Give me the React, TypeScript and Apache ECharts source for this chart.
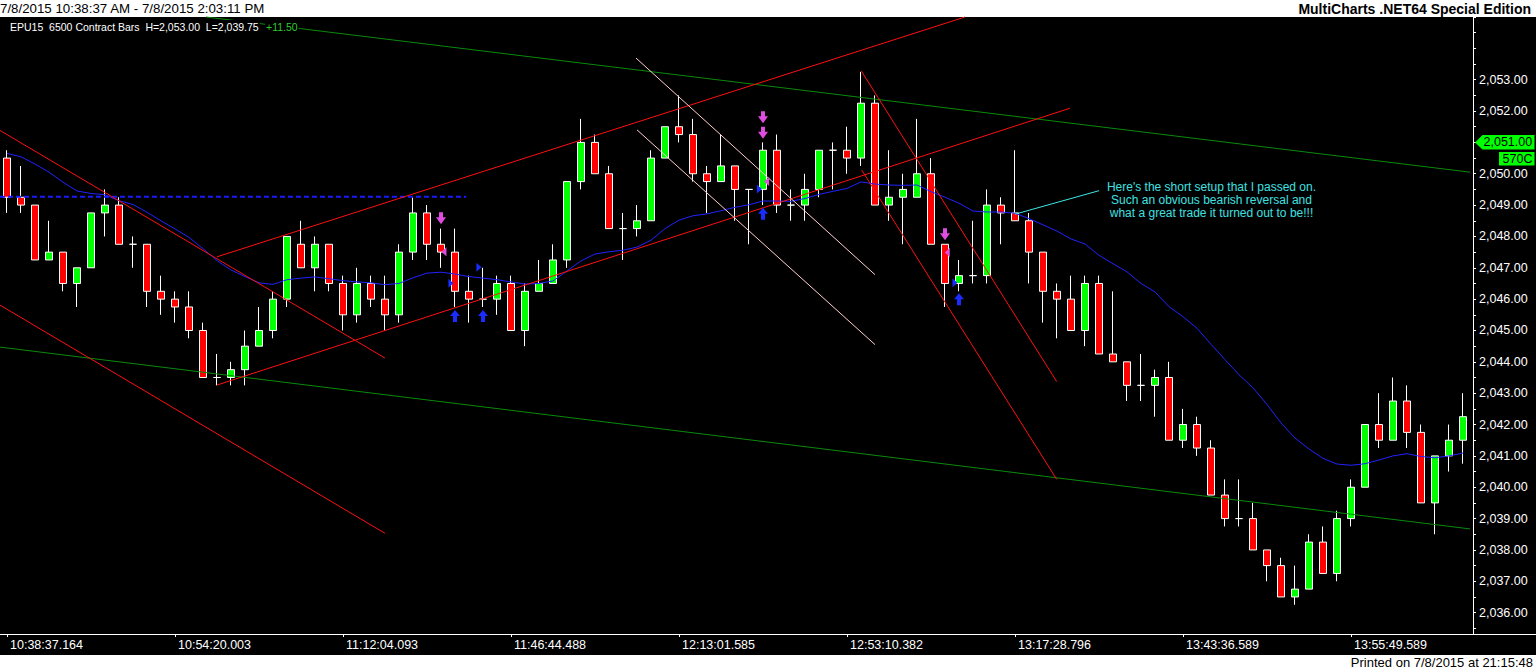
import React, { useEffect, useRef } from "react";
import * as echarts from "echarts";

// ---------- data ----------
const tickLabels = [
  "10:38:37.164", "10:54:20.003", "11:12:04.093", "11:46:44.488", "12:13:01.585",
  "12:53:10.382", "13:17:28.796", "13:43:36.589", "13:55:49.589",
];
const TICK_EVERY = 12;

// [open, high, low, close]
const ohlc: [number, number, number, number][] = [
  [2050.5, 2050.75, 2048.75, 2049.25], [2049.25, 2050.25, 2048.75, 2049.0], [2049.0, 2049.0, 2047.25, 2047.25],
  [2047.25, 2048.5, 2047.25, 2047.5], [2047.5, 2047.5, 2046.25, 2046.5], [2046.5, 2047.0, 2045.75, 2047.0],
  [2047.0, 2048.75, 2047.0, 2048.75], [2048.75, 2049.5, 2048.0, 2049.0], [2049.0, 2049.25, 2047.75, 2047.75],
  [2047.75, 2048.0, 2047.0, 2047.75], [2047.75, 2047.75, 2045.75, 2046.25], [2046.25, 2046.75, 2045.5, 2046.0],
  [2046.0, 2046.25, 2045.25, 2045.75], [2045.75, 2046.25, 2044.75, 2045.0], [2045.0, 2045.25, 2043.5, 2043.5],
  [2043.5, 2044.25, 2043.25, 2043.5], [2043.5, 2044.0, 2043.25, 2043.75], [2043.75, 2045.0, 2043.25, 2044.5],
  [2044.5, 2045.75, 2044.5, 2045.0], [2045.0, 2046.25, 2044.75, 2046.0], [2046.0, 2048.0, 2045.75, 2048.0],
  [2047.75, 2048.5, 2047.0, 2047.0], [2047.0, 2048.0, 2046.25, 2047.75], [2047.75, 2047.75, 2046.25, 2046.5],
  [2046.5, 2046.75, 2045.0, 2045.5], [2045.5, 2047.0, 2045.25, 2046.5], [2046.5, 2046.75, 2045.75, 2046.0],
  [2046.0, 2046.75, 2045.0, 2045.5], [2045.5, 2047.75, 2045.25, 2047.5], [2047.5, 2049.25, 2047.25, 2048.75],
  [2048.75, 2049.0, 2047.25, 2047.75], [2047.75, 2048.25, 2047.0, 2047.5], [2047.5, 2048.25, 2045.75, 2046.25],
  [2046.25, 2046.75, 2045.25, 2046.0], [2046.0, 2047.0, 2045.75, 2046.0], [2046.0, 2046.75, 2045.5, 2046.5],
  [2046.5, 2046.75, 2045.0, 2045.0], [2045.0, 2046.5, 2044.5, 2046.25], [2046.25, 2047.25, 2046.25, 2046.5],
  [2046.5, 2047.75, 2046.5, 2047.25], [2047.25, 2049.75, 2047.0, 2049.75], [2049.75, 2051.75, 2049.5, 2051.0],
  [2051.0, 2051.25, 2050.0, 2050.0], [2050.0, 2050.25, 2048.25, 2048.25], [2048.25, 2048.75, 2047.25, 2048.25],
  [2048.25, 2049.0, 2048.0, 2048.5], [2048.5, 2050.75, 2048.5, 2050.5], [2050.5, 2051.5, 2050.5, 2051.5],
  [2051.5, 2052.5, 2051.0, 2051.25], [2051.25, 2051.75, 2049.75, 2050.0], [2050.0, 2050.25, 2048.75, 2049.75],
  [2049.75, 2051.25, 2049.75, 2050.25], [2050.25, 2050.25, 2048.5, 2049.5], [2049.5, 2049.5, 2047.75, 2049.5],
  [2049.5, 2051.0, 2049.0, 2050.75], [2050.75, 2051.25, 2048.75, 2049.0], [2049.0, 2049.5, 2048.5, 2049.0],
  [2049.0, 2050.0, 2048.5, 2049.5], [2049.5, 2050.75, 2049.25, 2050.75], [2050.75, 2051.0, 2049.5, 2050.75],
  [2050.75, 2051.5, 2050.0, 2050.5], [2050.5, 2053.25, 2050.25, 2052.25], [2052.25, 2052.5, 2049.0, 2049.0],
  [2049.0, 2050.75, 2048.5, 2049.25], [2049.25, 2050.0, 2047.75, 2049.5], [2049.25, 2051.75, 2049.25, 2050.0],
  [2050.0, 2050.5, 2047.75, 2047.75], [2047.75, 2047.75, 2045.75, 2046.5], [2046.5, 2047.25, 2046.25, 2046.75],
  [2046.75, 2048.5, 2046.5, 2046.75], [2046.75, 2049.5, 2046.5, 2049.0], [2049.0, 2049.25, 2047.75, 2048.75],
  [2048.75, 2050.75, 2048.5, 2048.5], [2048.5, 2048.75, 2046.5, 2047.5], [2047.5, 2047.5, 2045.25, 2046.25],
  [2046.25, 2046.5, 2044.75, 2046.0], [2046.0, 2046.75, 2045.0, 2045.0], [2045.0, 2046.75, 2044.5, 2046.5],
  [2046.5, 2046.75, 2044.25, 2044.25], [2044.25, 2046.25, 2044.0, 2044.0], [2044.0, 2044.0, 2042.75, 2043.25],
  [2043.25, 2044.25, 2042.75, 2043.25], [2043.25, 2043.75, 2042.25, 2043.5], [2043.5, 2044.0, 2041.5, 2041.5],
  [2041.5, 2042.5, 2041.25, 2042.0], [2042.0, 2042.25, 2041.0, 2041.25], [2041.25, 2041.5, 2039.75, 2039.75],
  [2039.75, 2040.25, 2038.75, 2039.0], [2039.0, 2040.25, 2038.75, 2039.0], [2039.0, 2039.5, 2038.0, 2038.0],
  [2038.0, 2038.0, 2037.0, 2037.5], [2037.5, 2037.75, 2036.5, 2036.5], [2036.5, 2037.5, 2036.25, 2036.75],
  [2036.75, 2038.5, 2036.75, 2038.25], [2038.25, 2038.75, 2037.25, 2037.25], [2037.25, 2039.25, 2037.0, 2039.0],
  [2039.0, 2040.25, 2038.75, 2040.0], [2040.0, 2042.0, 2040.0, 2042.0], [2042.0, 2043.0, 2041.25, 2041.5],
  [2041.5, 2043.5, 2041.5, 2042.75], [2042.75, 2043.25, 2041.25, 2041.75], [2041.75, 2042.0, 2039.5, 2039.5],
  [2039.5, 2041.0, 2038.5, 2041.0], [2041.0, 2042.0, 2040.5, 2041.5], [2041.5, 2043.0, 2040.75, 2042.25],
];

const movingAverage = [
  2050.65, 2050.54, 2050.31, 2050.05, 2049.73, 2049.45, 2049.37, 2049.33, 2049.14, 2049.02,
  2048.77, 2048.5, 2048.24, 2047.97, 2047.61, 2047.23, 2046.93, 2046.72, 2046.52, 2046.47,
  2046.62, 2046.67, 2046.71, 2046.65, 2046.59, 2046.55, 2046.52, 2046.46, 2046.5, 2046.68,
  2046.83, 2046.86, 2046.8, 2046.72, 2046.67, 2046.62, 2046.55, 2046.48, 2046.5, 2046.58,
  2046.9, 2047.22, 2047.44, 2047.51, 2047.56, 2047.66, 2047.88, 2048.25, 2048.52, 2048.66,
  2048.72, 2048.82, 2048.93, 2049.01, 2049.13, 2049.13, 2049.12, 2049.21, 2049.34, 2049.44,
  2049.53, 2049.74, 2049.67, 2049.64, 2049.63, 2049.64, 2049.43, 2049.25, 2049.06, 2048.81,
  2048.78, 2048.78, 2048.74, 2048.57, 2048.37, 2048.17, 2047.92, 2047.76, 2047.4, 2047.13,
  2046.87, 2046.5, 2046.23, 2045.76, 2045.44, 2045.07, 2044.56, 2044.07, 2043.59, 2043.17,
  2042.64, 2042.05, 2041.57, 2041.22, 2040.92, 2040.74, 2040.7, 2040.75, 2040.87, 2041.0,
  2041.07, 2040.98, 2040.94, 2041.0, 2041.09,
];

// trend lines: [barIndex, price] endpoints
const greenUpper = [[14.21, 2055.0], [104.5, 2050.05]];
const greenLower = [[-0.5, 2044.47], [104.5, 2038.67]];
const redChannelTop = [[15.0, 2047.35], [68.43, 2055.0]];
const redChannelBottom = [[15.0, 2043.26], [75.93, 2052.09]];
const redDescUpper = [[-0.5, 2051.38], [27.0, 2044.12]];
const redDescLower = [[-0.5, 2045.81], [27.0, 2038.53]];
const pinkUpper = [[44.93, 2053.69], [62.0, 2046.78]];
const pinkLower = [[45.0, 2051.4], [62.0, 2044.55]];
const redRightUpper = [[61.02, 2053.28], [74.98, 2043.37]];
const redRightLower = [[61.05, 2050.12], [74.98, 2040.25]];
const cyanPointer = [[72.0, 2048.71], [78.0, 2049.46]];
const blueDotted = [[-0.5, 2049.27], [32.8, 2049.27]];

// signal markers [barIndex, price]
const sellArrows = [[31, 2048.58], [54, 2051.8], [54, 2051.31], [67, 2048.07]];
const buyArrows = [[32, 2045.46], [34, 2045.46], [54, 2048.72], [68, 2046.0]];
const exitLeftMarks = [[31.21, 2047.51], [54.26, 2049.75], [67.16, 2047.49]];
const entryRightMarks = [[31.71, 2046.51], [33.71, 2047.02], [53.74, 2049.51], [67.71, 2046.52]];

const markerPrice = 2051.0;
const markerTag = "570C";
const yMin = 2035.5;
const yMax = 2055;
const yStep = 0.5;
const labelMin = 2036;
const labelMax = 2053;

const headerLeft = "7/8/2015 10:38:37 AM - 7/8/2015 2:03:11 PM";
const headerRight = "MultiCharts .NET64 Special Edition";
const legendMain = "EPU15  6500 Contract Bars  H=2,053.00  L=2,039.75";
const legendChange = "+11.50";
const annotation = [
  "Here's the short setup that I passed on.",
  "Such an obvious bearish reversal and",
  "what a great trade it turned out to be!!!",
];
const footer = "Printed on 7/8/2015 at 21:15:48";

// ---------- helpers ----------
const categories = ohlc.map((_, i) =>
  i % TICK_EVERY === 0 && tickLabels[i / TICK_EVERY] ? tickLabels[i / TICK_EVERY] : `bar ${i + 1}`
);
const fmtPrice = (v: number) =>
  v.toLocaleString("en-US", { minimumFractionDigits: 2, maximumFractionDigits: 2 });

const FONT = '"Liberation Sans", Arial, sans-serif';
const GRID_TOP = 17;
const GRID_W = 1470;
const GRID_H = 611.3;
const AXIS_Y = 634.5;
const AXIS_X = 1473.5;

const RED = "#ff1010";
const GREEN_LINE = "#0a8a0a";
const PINK = "#ffd0d0";

function lineSeries(data: number[][], color: string, width = 1, type: any = "solid") {
  return {
    type: "line",
    xAxisIndex: 1,
    yAxisIndex: 0,
    data,
    showSymbol: false,
    silent: true,
    clip: false,
    z: 4,
    lineStyle: { color, width, type },
  };
}

function scatterSeries(data: number[][], symbol: string, size: number[], color: string) {
  return {
    type: "scatter",
    xAxisIndex: 1,
    yAxisIndex: 0,
    data,
    symbol,
    symbolSize: size,
    silent: true,
    z: 6,
    itemStyle: { color, opacity: 1 },
  };
}

const DOWN_ARROW = "path://M3,0L7,0L7,5L10,5L5,12L0,5L3,5Z";
const UP_ARROW = "path://M5,0L10,6L7,6L7,12L3,12L3,6L0,6Z";
const LEFT_TRI = "path://M6,0L6,10L0,5Z";
const RIGHT_TRI = "path://M0,0L6,5L0,10Z";

const option: any = {
  animation: false,
  backgroundColor: "transparent",
  grid: { left: 0, top: GRID_TOP, width: GRID_W, height: GRID_H },
  xAxis: [
    {
      type: "category",
      data: categories,
      boundaryGap: true,
      offset: AXIS_Y - 0.5 - (GRID_TOP + GRID_H),
      axisLine: { show: false, onZero: false },
      axisTick: {
        show: true,
        alignWithLabel: true,
        interval: (i: number) => i % TICK_EVERY === 0,
        length: 3,
        lineStyle: { color: "#ffffff", width: 1 },
      },
      axisLabel: {
        interval: (i: number) => i % TICK_EVERY === 0,
        formatter: (v: string) => (v.startsWith("bar ") ? "" : v),
        align: "left",
        padding: [0, 0, 0, 3],
        margin: 4,
        color: "#ffffff",
        fontSize: 12.5,
        fontFamily: FONT,
      },
      splitLine: { show: false },
    },
    {
      type: "value",
      min: -0.5,
      max: ohlc.length - 0.5,
      show: false,
      axisLine: { onZero: false },
    },
  ],
  yAxis: {
    type: "value",
    position: "right",
    offset: 3,
    min: yMin,
    max: yMax,
    interval: yStep,
    scale: true,
    axisLine: { show: false, onZero: false },
    axisTick: { show: true, length: 3, lineStyle: { color: "#ffffff", width: 1 } },
    axisLabel: {
      margin: 6,
      color: "#ffffff",
      fontSize: 12.5,
      fontFamily: FONT,
      formatter: (v: number) =>
        Number.isInteger(v) && v >= labelMin && v <= labelMax && v !== markerPrice ? fmtPrice(v) : "",
    },
    splitLine: { show: false },
  },
  series: [
    {
      type: "candlestick",
      xAxisIndex: 0,
      yAxisIndex: 0,
      data: ohlc.map(([o, h, l, c]) => [o, c, l, h]),
      barWidth: 8,
      z: 2,
      itemStyle: {
        color: "#00ff00",
        color0: "#ff0000",
        borderColor: "#ffffff",
        borderColor0: "#ffffff",
        borderColorDoji: "#ffffff",
        borderWidth: 1,
      },
    },
    {
      type: "line",
      xAxisIndex: 0,
      yAxisIndex: 0,
      data: movingAverage,
      showSymbol: false,
      silent: true,
      z: 3,
      lineStyle: { color: "#2222ff", width: 1 },
    },
    lineSeries(blueDotted, "#1a1aff", 2, [5, 3]),
    lineSeries(greenUpper, GREEN_LINE),
    lineSeries(greenLower, GREEN_LINE),
    lineSeries(redDescUpper, RED),
    lineSeries(redDescLower, RED),
    lineSeries(redChannelTop, RED),
    lineSeries(redChannelBottom, RED),
    lineSeries(pinkUpper, PINK),
    lineSeries(pinkLower, PINK),
    lineSeries(redRightUpper, RED),
    lineSeries(redRightLower, RED),
    lineSeries(cyanPointer, "#40e8e8"),
    scatterSeries(sellArrows, DOWN_ARROW, [10, 12], "#e04ce0"),
    scatterSeries(buyArrows, UP_ARROW, [10, 12], "#1a2cff"),
    scatterSeries(exitLeftMarks, LEFT_TRI, [5, 9], "#e04ce0"),
    scatterSeries(entryRightMarks, RIGHT_TRI, [5, 9], "#1a2cff"),
  ],
};

function buildGraphics(yMarker: number) {
  const txt = (x: number, y: number, text: string, fill: string, font: string, align = "left", extra: any = {}) => ({
    type: "text",
    x,
    y,
    z: 100,
    silent: true,
    style: {
      text,
      fill,
      font,
      align,
      textAlign: align,
      verticalAlign: "middle",
      textVerticalAlign: "middle",
      ...extra,
    },
  });
  return [
    { type: "line", z: 90, silent: true, shape: { x1: 0, y1: AXIS_Y, x2: 1536, y2: AXIS_Y }, style: { stroke: "#ffffff", lineWidth: 1 } },
    { type: "line", z: 90, silent: true, shape: { x1: AXIS_X, y1: GRID_TOP, x2: AXIS_X, y2: AXIS_Y }, style: { stroke: "#ffffff", lineWidth: 1 } },
    txt(0, 8.5, headerLeft, "#000000", `13.3px ${FONT}`),
    txt(1531, 8.5, headerRight, "#000000", `bold 14px ${FONT}`, "right"),
    txt(9, 26.5, legendMain, "#ffffff", `10.5px ${FONT}`, "left", { backgroundColor: "#000000", padding: [1, 1, 1, 1] }),
    txt(265, 26.5, legendChange, "#2ecc2e", `10.5px ${FONT}`, "left", { backgroundColor: "#000000", padding: [1, 1, 1, 1] }),
    txt(1211.5, 200, annotation.join("\n"), "#40e0e0", `12px ${FONT}`, "center", { lineHeight: 13.4 }),
    txt(1533, 662.5, footer, "#000000", `13px ${FONT}`, "right"),
    {
      type: "polygon",
      z: 100,
      silent: true,
      shape: {
        points: [
          [1475, yMarker],
          [1482.5, yMarker - 7.5],
          [1534.5, yMarker - 7.5],
          [1534.5, yMarker + 7],
          [1482.5, yMarker + 7],
        ],
      },
      style: { fill: "#00ff00" },
    },
    txt(1483.5, yMarker, fmtPrice(markerPrice), "#000000", `12.5px ${FONT}`, "left", { lineHeight: 13 }),
    {
      type: "rect",
      z: 100,
      silent: true,
      shape: { x: 1499, y: yMarker + 9.5, width: 35.5, height: 13.5 },
      style: { fill: "#00ff00" },
    },
    txt(1532.5, yMarker + 16.5, markerTag, "#000000", `12.5px ${FONT}`, "right", { lineHeight: 13 }),
  ];
}

export default function App() {
  const ref = useRef<HTMLDivElement>(null);
  useEffect(() => {
    if (!ref.current) return;
    const chart = echarts.init(ref.current, null, { renderer: "svg" });
    chart.setOption(option);
    const yM = chart.convertToPixel({ yAxisIndex: 0 }, markerPrice) as number;
    chart.setOption({ graphic: buildGraphics(yM) });
    return () => chart.dispose();
  }, []);
  return (
    <div style={{ position: "fixed", left: 0, top: 0, width: 1536, height: 670, background: "#ffffff", overflow: "hidden" }}>
      <div style={{ position: "absolute", left: 0, top: 17, width: 1536, height: 638, background: "#000000" }} />
      <div ref={ref} style={{ position: "absolute", left: 0, top: 0, width: 1536, height: 670 }} />
    </div>
  );
}
